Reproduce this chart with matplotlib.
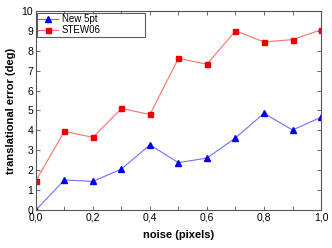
import matplotlib
matplotlib.use("Agg")
import matplotlib.pyplot as plt
from matplotlib.ticker import FixedLocator, MultipleLocator

noise = [0.0, 0.1, 0.2, 0.3, 0.4, 0.5, 0.6, 0.7, 0.8, 0.9, 1.0]
new_5pt = [0.0, 1.51, 1.44, 2.06, 3.27, 2.38, 2.61, 3.62, 4.86, 4.02, 4.66]
stew06 = [1.47, 3.95, 3.65, 5.1, 4.8, 7.62, 7.32, 9.0, 8.44, 8.56, 9.05]
x_ticks = [0.0, 0.2, 0.4, 0.6, 0.8, 1.0]
x_labels = ["0,0", "0,2", "0,4", "0,6", "0,8", "1,0"]

plt.rcParams["font.family"] = ["Liberation Sans", "DejaVu Sans"]

fig = plt.figure(figsize=(3.32, 2.48), dpi=100)
ax = fig.add_axes([0.108, 0.153, 0.859, 0.803])

ax.plot(noise, new_5pt, color="#7070ff", linewidth=0.8, marker="^",
        markersize=4, markerfacecolor="#0000ee", markeredgecolor="#0000ee",
        label="New 5pt")
ax.plot(noise, stew06, color="#ff7070", linewidth=0.8, marker="s",
        markersize=3.6, markerfacecolor="#ee0000", markeredgecolor="#ee0000",
        label="STEW06")

ax.set_xlim(0, 1.0)
ax.set_ylim(0, 10)
ax.xaxis.set_major_locator(FixedLocator(x_ticks))
ax.set_xticklabels(x_labels)
ax.xaxis.set_minor_locator(MultipleLocator(0.1))
ax.yaxis.set_major_locator(MultipleLocator(1))
ax.tick_params(which="both", direction="in", top=True, right=True,
               labelsize=7.5, color="#555555", pad=2)
ax.tick_params(which="major", length=3, width=0.6)
ax.tick_params(which="minor", length=3, width=0.6)
for s in ax.spines.values():
    s.set_color("#555555")
    s.set_linewidth(0.8)

ax.set_xlabel("noise (pixels)", fontsize=8, fontweight="bold", labelpad=5)
ax.set_ylabel("translational error (deg)", fontsize=8, fontweight="bold",
              labelpad=4)

leg = ax.legend(loc="upper left", bbox_to_anchor=(0.004, 0.99, 0.378, 0),
                mode="expand", fontsize=7, frameon=True, fancybox=False,
                borderaxespad=0, handlelength=2.0, borderpad=0.15,
                labelspacing=0.1, handletextpad=0.4)
leg.get_frame().set_edgecolor("#333333")
leg.get_frame().set_linewidth(0.8)

fig.savefig("out.png", dpi=100)
